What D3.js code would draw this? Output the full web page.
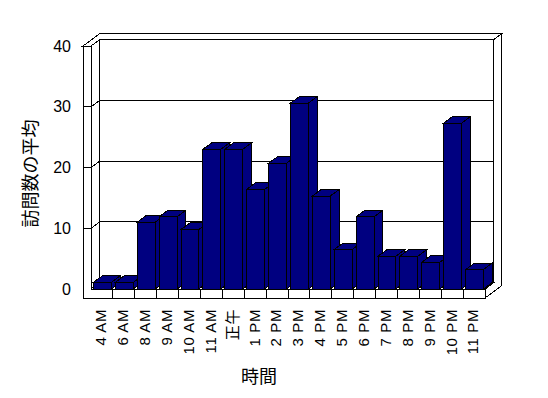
<!DOCTYPE html>
<html>
<head>
<meta charset="utf-8">
<script src="https://cdn.jsdelivr.net/npm/d3@7"></script>
<style>
  body { margin: 0; background: #fff; }
  svg { display: block; }
</style>
</head>
<body>
<svg id="chart" width="548" height="398"></svg>
<script>
var hours = ['4 AM', '6 AM', '8 AM', '9 AM', '10 AM', '11 AM', '正午', '1 PM', '2 PM',
  '3 PM', '4 PM', '5 PM', '6 PM', '7 PM', '8 PM', '9 PM', '10 PM', '11 PM'];
var visits = [1.1, 1.1, 11.0, 11.9, 9.8, 23.0, 23.0, 16.4, 20.7,
  30.6, 15.3, 6.5, 11.9, 5.4, 5.4, 4.4, 27.3, 3.2];
var yTicks = [0, 10, 20, 30, 40];
var yTitle = '訪問数の平均';
var xTitle = '時間';

var data = hours.map((h, i) => ({ h: h, v: visits[i] }));

var svg = d3.select('#chart');

// front plane scales; depth is drawn as an oblique shift up and to the right
var x = d3.scaleBand().domain(hours).range([91, 485]).padding(0);
var y = d3.scaleLinear().domain([0, 40]).range([289, 46]);
var dx = 8.8, dy = -6.5; // one unit of depth (front -> back wall)
var wall = 8, floorH = 9, thick = 1.85; // wall / floor thickness, back wall outer depth

var x0 = x.range()[0], x1 = x.range()[1];
var yTop = y(40), yBase = y(0);
var pt = (X, Y, Z) => [X + Z * dx, Y + Z * dy];
var poly = (pts) => 'M' + pts.map((p) => p[0] + ',' + p[1]).join('L') + 'Z';

var frame = svg.append('g')
  .attr('fill', '#fff')
  .attr('stroke', '#000')
  .attr('stroke-width', 1)
  .attr('shape-rendering', 'crispEdges');

// back wall inner face
frame.append('path')
  .attr('d', poly([pt(x0, yTop, 1), pt(x1, yTop, 1), pt(x1, yBase, 1), pt(x0, yBase, 1)]));
frame.selectAll('line.grid')
  .data(yTicks.filter((t) => t > 0 && t < 40))
  .enter()
  .append('line')
  .attr('class', 'grid')
  .attr('x1', pt(x0, 0, 1)[0])
  .attr('x2', pt(x1, 0, 1)[0])
  .attr('y1', (d) => y(d) + dy)
  .attr('y2', (d) => y(d) + dy);

// top of left wall + back wall
frame.append('path')
  .attr('d', poly([[x0 - wall, yTop], [x0, yTop], pt(x0, yTop, 1), pt(x1, yTop, 1),
    pt(x1, yTop, thick), pt(x0 - wall, yTop, thick)]));

// right face of back wall + floor
frame.append('path')
  .attr('d', poly([[x1, yBase], [x1, yBase + floorH], pt(x1, yBase + floorH, thick),
    pt(x1, yTop, thick), pt(x1, yTop, 1), pt(x1, yBase, 1)]));

// left wall inner face
frame.append('path')
  .attr('d', poly([[x0, yTop], pt(x0, yTop, 1), pt(x0, yBase, 1), [x0, yBase]]));
frame.selectAll('line.side')
  .data(yTicks.filter((t) => t > 0 && t < 40))
  .enter()
  .append('line')
  .attr('class', 'side')
  .attr('x1', x0)
  .attr('x2', x0 + dx)
  .attr('y1', (d) => y(d))
  .attr('y2', (d) => y(d) + dy);

// floor top face
frame.append('path')
  .attr('d', poly([[x0, yBase], [x1, yBase], pt(x1, yBase, 1), pt(x0, yBase, 1)]));

// front face of left wall and floor
frame.append('path')
  .attr('d', poly([[x0 - wall, yTop], [x0, yTop], [x0, yBase], [x1, yBase],
    [x1, yBase + floorH], [x0 - wall, yBase + floorH]]));
frame.selectAll('line.tick')
  .data(yTicks.filter((t) => t > 0 && t < 40))
  .enter()
  .append('line')
  .attr('class', 'tick')
  .attr('x1', x0 - wall)
  .attr('x2', x0)
  .attr('y1', (d) => y(d))
  .attr('y2', (d) => y(d));
frame.selectAll('line.div')
  .data(hours.slice(1))
  .enter()
  .append('line')
  .attr('class', 'div')
  .attr('x1', (d) => x(d))
  .attr('x2', (d) => x(d))
  .attr('y1', yBase)
  .attr('y2', yBase + floorH);

// bars, left to right so each front face covers the previous side
var bars = svg.append('g')
  .attr('fill', '#000080')
  .attr('stroke', '#000')
  .attr('stroke-width', 1)
  .attr('shape-rendering', 'crispEdges')
  .selectAll('g')
  .data(data)
  .enter()
  .append('g');

var bl = (d) => x(d.h) + 2.5;
var br = (d) => x(d.h) + x.bandwidth() - 1.5;

bars.append('path')
  .attr('d', (d) => poly([[br(d), y(d.v)], pt(br(d), y(d.v), 1), pt(br(d), yBase, 1), [br(d), yBase]]));
bars.append('path')
  .attr('d', (d) => poly([[bl(d), y(d.v)], [br(d), y(d.v)], pt(br(d), y(d.v), 1), pt(bl(d), y(d.v), 1)]));
bars.append('path')
  .attr('d', (d) => poly([[bl(d), y(d.v)], [br(d), y(d.v)], [br(d), yBase], [bl(d), yBase]]));

// value axis labels
var yAxis = svg.append('g')
  .attr('transform', 'translate(75,0)')
  .call(d3.axisLeft(y).tickValues(yTicks).tickSize(0).tickPadding(4));
yAxis.select('.domain').remove();
yAxis.attr('font-family', 'Liberation Sans, Arial, sans-serif').attr('font-size', 16);
yAxis.selectAll('text').attr('fill', '#000');

// category labels, rotated
var xAxis = svg.append('g')
  .attr('transform', 'translate(-1,' + (yBase + floorH) + ')')
  .call(d3.axisBottom(x).tickSize(0));
xAxis.select('.domain').remove();
xAxis.attr('font-family', 'Liberation Sans, Noto Sans CJK JP, sans-serif').attr('font-size', 15);
xAxis.selectAll('text')
  .attr('fill', '#000')
  .attr('transform', 'rotate(-90)')
  .attr('text-anchor', 'end')
  .attr('x', -11)
  .attr('y', 0)
  .attr('dy', '0.36em')
  .attr('letter-spacing', 0.6);

// axis titles
svg.append('text')
  .attr('transform', 'translate(28.5,173.5) rotate(-90)')
  .attr('text-anchor', 'middle')
  .attr('dominant-baseline', 'central')
  .attr('font-family', 'Noto Sans CJK JP, sans-serif')
  .attr('font-size', 18)
  .text(yTitle);

svg.append('text')
  .attr('x', 259)
  .attr('y', 375)
  .attr('text-anchor', 'middle')
  .attr('dominant-baseline', 'central')
  .attr('font-family', 'Noto Sans CJK JP, sans-serif')
  .attr('font-size', 18)
  .text(xTitle);
</script>
</body>
</html>
